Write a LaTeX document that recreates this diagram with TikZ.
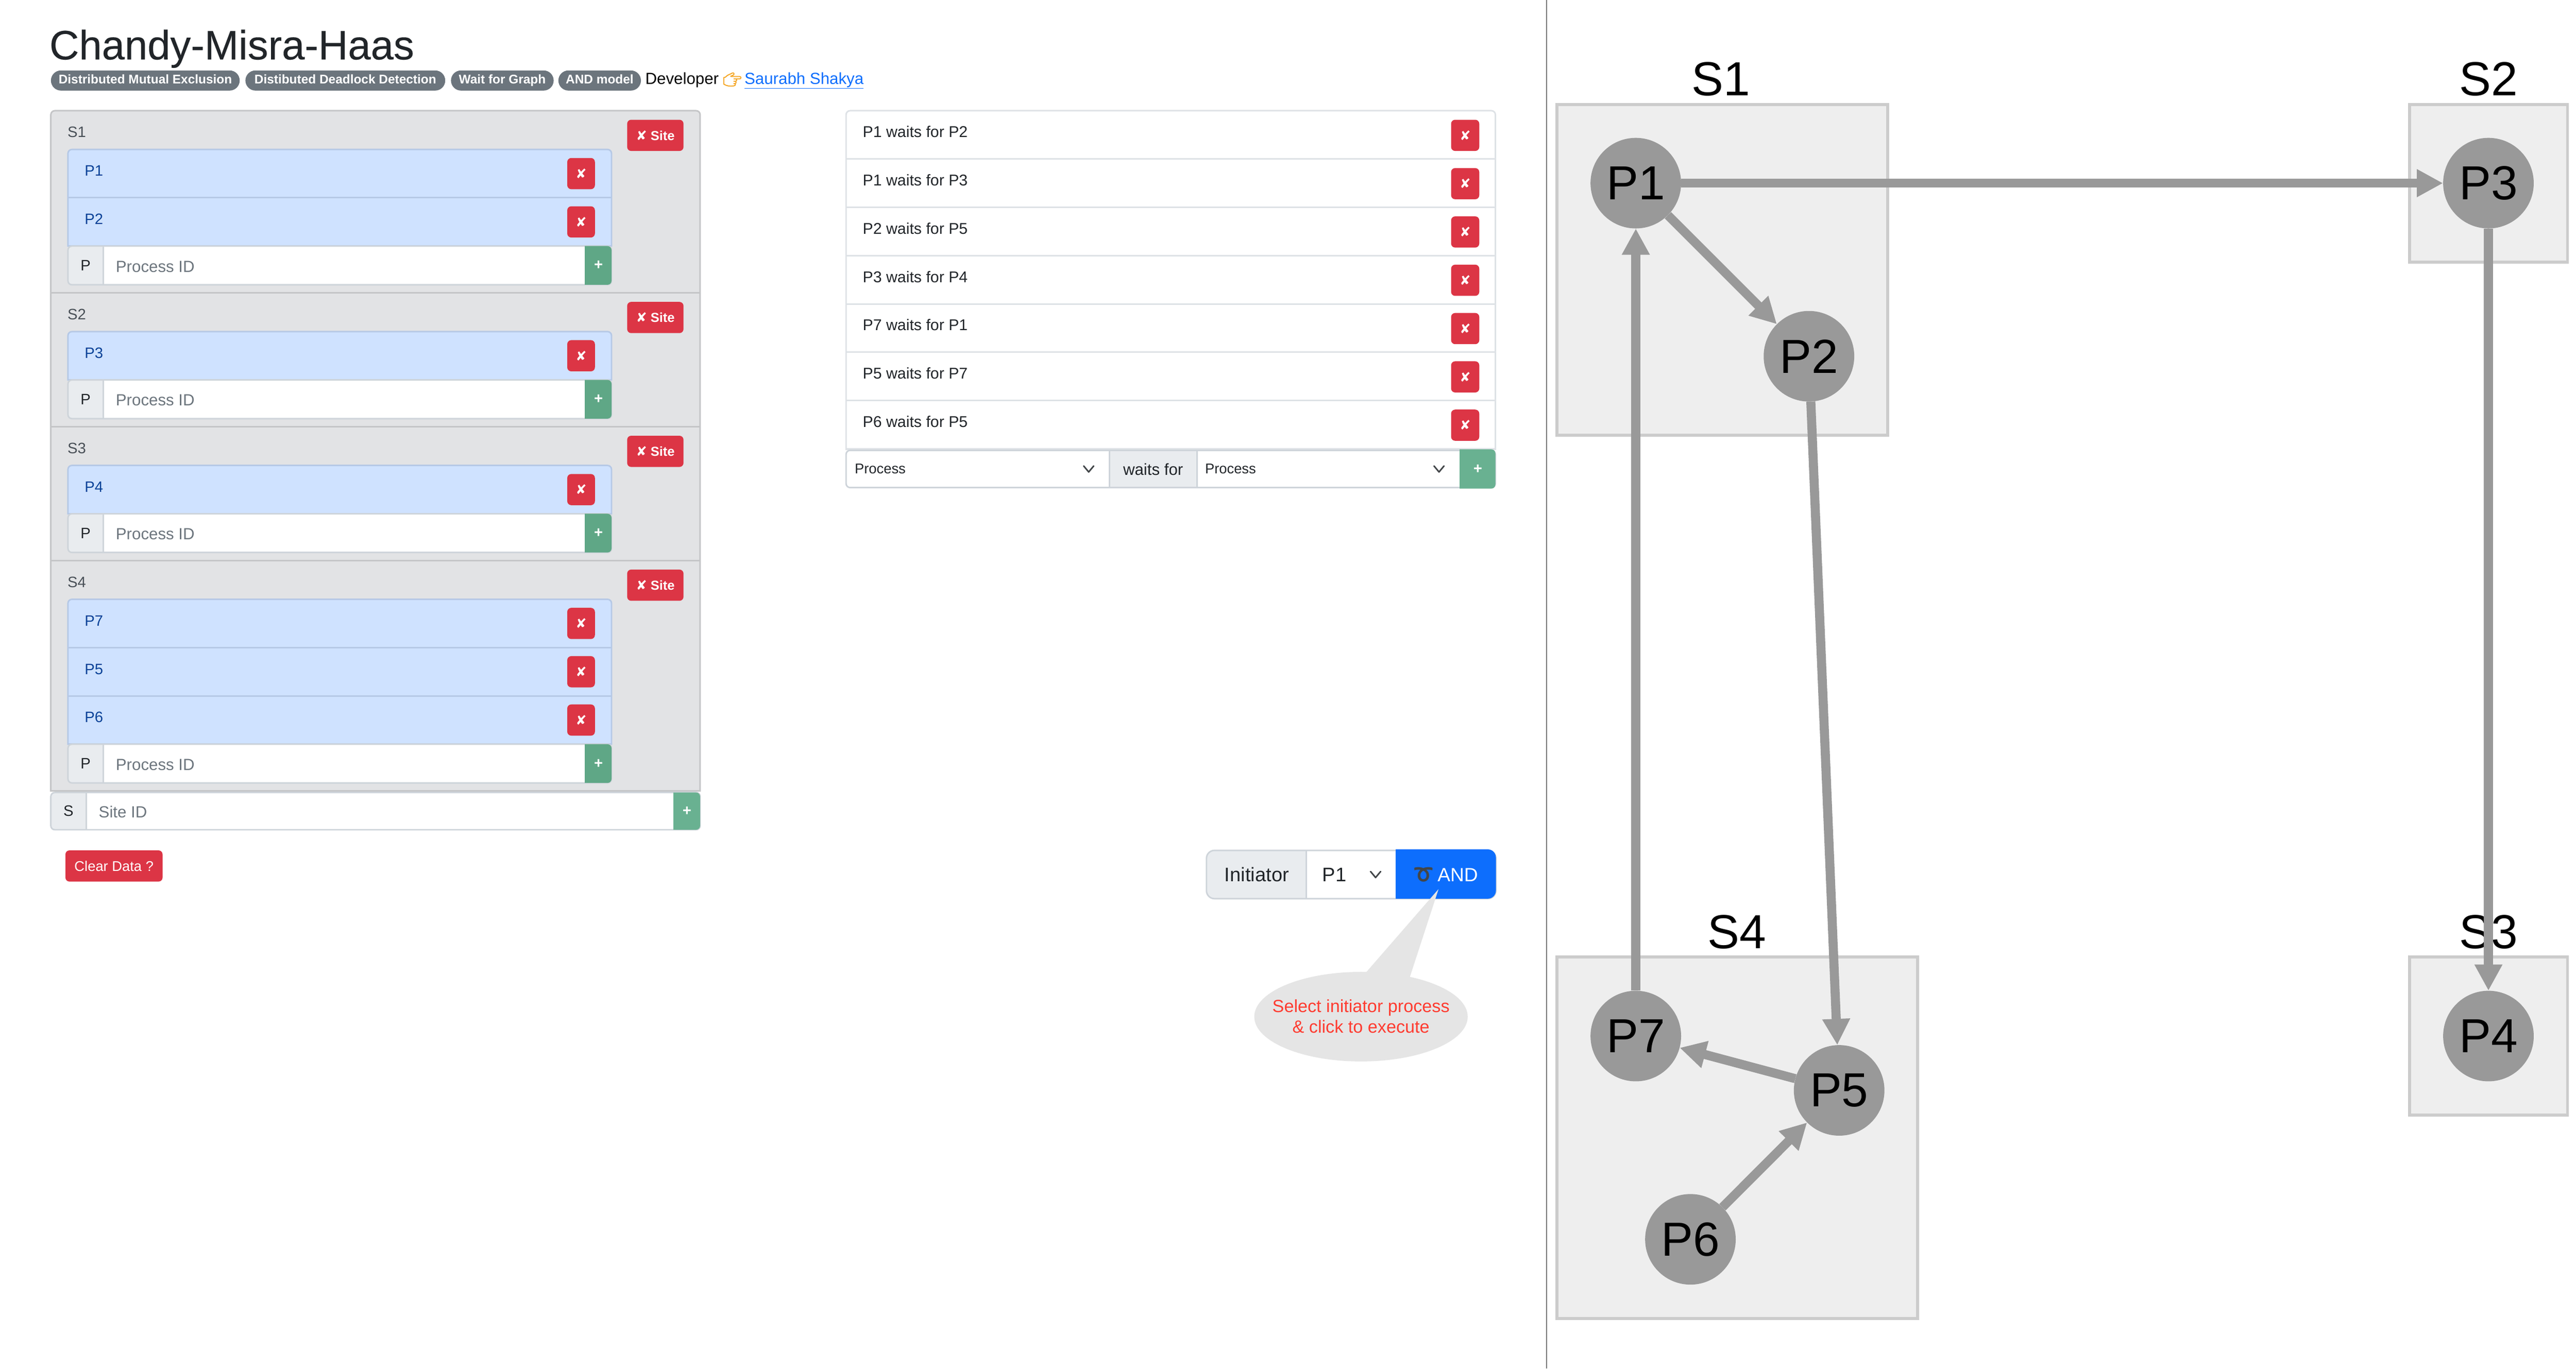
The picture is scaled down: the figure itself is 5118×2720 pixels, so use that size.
\documentclass[tikz,border=0pt]{standalone}
\usepackage{fontspec}
\setmainfont{Liberation Sans}
\newfontfamily\mediumfont[FakeBold=0.25]{Liberation Sans}
\newfontfamily\dingfont{DejaVu Sans}
\newfontfamily\emojifont{Noto Emoji}
\newfontfamily\handfont[FakeBold=2.5]{Noto Emoji}
\usetikzlibrary{arrows.meta,positioning}
\definecolor{inkdark}{HTML}{212529}
\definecolor{inkmuted}{HTML}{495057}
\definecolor{hintgrey}{HTML}{6C757D}
\definecolor{panelgrey}{HTML}{E2E3E5}
\definecolor{panelline}{HTML}{C4C5C7}
\definecolor{procblue}{HTML}{CFE2FF}
\definecolor{procline}{HTML}{B6C9E6}
\definecolor{procink}{HTML}{084298}
\definecolor{btnred}{HTML}{DC3545}
\definecolor{addgreen}{HTML}{5FA786}
\definecolor{addlight}{HTML}{69B191}
\definecolor{cellgrey}{HTML}{E9ECEF}
\definecolor{groupline}{HTML}{CED4DA}
\definecolor{listline}{HTML}{DEE2E6}
\definecolor{runblue}{HTML}{0D6EFD}
\definecolor{calloutgrey}{HTML}{E5E5E5}
\definecolor{calloutred}{HTML}{FF3B30}
\definecolor{boxfill}{HTML}{EEEEEE}
\definecolor{boxline}{HTML}{CCCCCC}
\definecolor{procgrey}{HTML}{999999}
\definecolor{handorange}{HTML}{F5A623}
\definecolor{splitgrey}{HTML}{787878}
\newcommand{\px}[1]{\fontsize{#1}{41}\selectfont}
\newcommand{\xmark}{{\dingfont ✘}}
% panel with rounded top corners only
\newcommand{\topround}[5]{\draw[#1] (#2,#5) [rounded corners=8pt] -- (#2,#3) -- (#4,#3) [sharp corners] -- (#4,#5) -- cycle;}
\newcommand{\chevron}[2]{\draw[chev, shift={(#1,#2)}] (-10,-6) -- (0,6) -- (10,-6);}
% name, x1, y1, x2, y2, letter, placeholder, green
\newcommand{\inputgroup}[8]{%
  \pgfmathsetmacro{\midy}{(#3+#5)/2}
  \begin{scope}
    \clip[rounded corners=8pt] (#2,#3) rectangle (#4,#5);
    \fill[white] (#2,#3) rectangle (#4,#5);
    \fill[cellgrey] (#2,#3) rectangle ({#2+70},#5);
  \end{scope}
  \draw[grouprule, rounded corners=8pt] (#2,#3) rectangle (#4,#5);
  \draw[grouprule] ({#2+70},#3) -- ({#2+70},#5);
  \begin{scope}
    \clip[rounded corners=8pt] (#2,#3) rectangle (#4,#5);
    \fill[#8] ({#4-53},{#3-2}) rectangle ({#4+2},{#5+2});
  \end{scope}
  \node[uitext, anchor=center] (#1letter) at ({#2+35},\midy) {#6};
  \node[placeholder] (#1hint) at ({#2+95},{\midy+13}) {#7};
  \node[plusmark] (#1add) at ({#4-26},\midy) {+};
}
\newcommand{\procrow}[2]{%
  \draw[procrule] (135,{#2+96}) -- (1215,{#2+96});
  \node[proctext] (lbl#1) at (168,{#2+53}) {#1};
  \node[delbtn, minimum width=55pt] (del#1) at (1154.5,{#2+48}) {\xmark};
}
\tikzset{
  uitext/.style={inner sep=0pt, text=inkdark, font=\px{30}},
  basetext/.style={uitext, anchor=base west},
  proctext/.style={basetext, text=procink},
  placeholder/.style={basetext, text=hintgrey, font=\px{32}},
  plusmark/.style={inner sep=0pt, text=white, font=\bfseries\px{30}},
  delbtn/.style={fill=btnred, rounded corners=8pt, text=white, inner sep=0pt, minimum height=62pt, font=\px{26}},
  badge/.style={fill=hintgrey, rounded corners=20pt, text=white, inner sep=0pt, minimum height=40pt, text height=18pt, text depth=5pt, font=\bfseries\px{25}},
  grouprule/.style={draw=groupline, line width=3pt},
  procrule/.style={draw=procline, line width=3pt},
  listrule/.style={draw=listline, line width=3pt},
  chev/.style={draw=inkdark!85, line width=3pt, line cap=round, line join=round},
  sitebox/.style={draw=boxline, fill=boxfill, line width=6pt, inner sep=0pt},
  sitelabel/.style={anchor=base, inner sep=0pt, font=\px{95}},
  procnode/.style={circle, fill=procgrey, inner sep=0pt, minimum size=180pt, font=\px{95}},
  waitedge/.style={draw=procgrey, line width=18pt, -{Triangle[length=52pt,width=52pt]}},
}
\begin{document}
\begin{tikzpicture}[x=1pt,y=-1pt]
  \useasboundingbox[fill=white] (0,0) rectangle (5118,2720);
  % heading
  \node[basetext, font=\mediumfont\px{81.5}] (title) at (98,118) {Chandy-Misra-Haas};
  \node[badge, minimum width=375pt, anchor=west] (tagMutex) at (101,160) {Distributed Mutual Exclusion};
  \node[badge, minimum width=397pt, right=11pt of tagMutex] (tagDeadlock) {Distibuted Deadlock Detection};
  \node[badge, minimum width=204pt, right=11pt of tagDeadlock] (tagGraph) {Wait for Graph};
  \node[badge, minimum width=164pt, right=9pt of tagGraph] (tagModel) {AND model};
  \node[basetext, text=black, font=\px{32}] (dev) at (1282,167) {Developer};
  \node[inner sep=0pt, text=handorange, font=\handfont\px{30}] (devHand) at (1455,158) {👉};
  \node[basetext, text=runblue, font=\px{32}] (devLink) at (1479,167) {\underline{Saurabh Shakya}};
  % sites panel
  \topround{draw=panelline, fill=panelgrey, line width=3pt}{101}{220}{1391}{1572}
  \foreach \site/\stop/\plist/\n in {S1/220/{P1,P2}/2,S2/582/{P3}/1,S3/848/{P4}/1,S4/1114/{P7,P5,P6}/3}{
    \pgfmathsetmacro{\ltop}{\stop+77}
    \pgfmathsetmacro{\lbot}{\ltop+96*\n}
    \pgfmathsetmacro{\sbot}{\lbot+93}
    \draw[draw=panelline, line width=3pt] (101,\sbot) -- (1391,\sbot);
    \node[basetext, text=inkmuted] (lbl\site) at (134,{\stop+53}) {\site};
    \node[delbtn, minimum width=112pt] (del\site) at (1302,{\stop+49}) {\xmark\ \textbf{Site}};
    \topround{procrule, fill=procblue}{135}{\ltop}{1215}{\lbot}
    \foreach \p [count=\i] in \plist {
      \pgfmathsetmacro{\rtop}{\ltop+96*(\i-1)}
      \procrow{\p}{\rtop}
    }
    \inputgroup{in\site}{135}{\lbot}{1215}{\lbot+77}{P}{Process ID}{addgreen}
  }
  \inputgroup{inSite}{101}{1575}{1391}{1649}{S}{Site ID}{addlight}
  \node[delbtn, minimum width=193pt, font=\px{28}] (clearData) at (226.5,1721) {Clear Data ?};
  % wait list
  \topround{listrule, fill=white}{1681}{220}{2971}{893}
  \foreach \a/\b [count=\i] in {P1/P2,P1/P3,P2/P5,P3/P4,P7/P1,P5/P7,P6/P5}{
    \pgfmathsetmacro{\rtop}{220+96*(\i-1)}
    \draw[listrule] (1681,{\rtop+96}) -- (2971,{\rtop+96});
    \node[basetext, font=\px{31}] (wait\a\b) at (1714,{\rtop+53}) {\a{} waits for \b};
    \node[delbtn, minimum width=56pt] (delw\a\b) at (2911,{\rtop+49}) {\xmark};
  }
  % add wait row
  \fill[white] (1681,895) rectangle (2971,969);
  \begin{scope}
    \clip[rounded corners=8pt] (1681,895) rectangle (2971,969);
    \fill[cellgrey] (2204,895) rectangle (2378,969);
  \end{scope}
  \draw[grouprule, rounded corners=8pt] (1681,895) rectangle (2971,969);
  \draw[grouprule] (2204,895) -- (2204,969) (2378,895) -- (2378,969);
  \begin{scope}
    \clip[rounded corners=8pt] (1681,893) rectangle (2971,971);
    \fill[addlight] (2900,893) rectangle (2973,971);
  \end{scope}
  \node[basetext, font=\px{28}] (selFrom) at (1698,941) {Process};
  \node[uitext, anchor=base, font=\px{32}] (waitsFor) at (2291,944) {waits for};
  \node[basetext, font=\px{28}] (selTo) at (2394,941) {Process};
  \node[plusmark] (addWait) at (2936,932) {+};
  \chevron{2163}{932}
  \chevron{2859}{932}
  % initiator row
  \begin{scope}
    \clip[rounded corners=16pt] (2397,1690) rectangle (2972,1786);
    \fill[white] (2397,1690) rectangle (2972,1786);
    \fill[cellgrey] (2397,1690) rectangle (2595,1786);
  \end{scope}
  \draw[grouprule, rounded corners=16pt] (2397,1690) rectangle (2972,1786);
  \draw[grouprule] (2595,1690) -- (2595,1786);
  \begin{scope}
    \clip[rounded corners=16pt] (2397,1688) rectangle (2972,1786);
    \fill[runblue] (2773,1688) rectangle (2974,1788);
  \end{scope}
  \node[uitext, anchor=base, font=\px{39}] (initLabel) at (2497,1752) {Initiator};
  \node[basetext, font=\px{39}] (initValue) at (2627,1752) {P1};
  \chevron{2733}{1738}
  \node[inner sep=0pt, text=inkdark!85, font=\emojifont\px{40}] (runLoop) at (2828,1738) {➰};
  \node[basetext, text=white, font=\px{38}] (runAnd) at (2856,1752) {AND};
  % callout
  \coordinate (hintTip) at (2858,1767);
  \coordinate (hintLeft) at (2711,1936);
  \coordinate (hintRight) at (2800,1945);
  \fill[calloutgrey] (hintLeft) -- (hintTip) -- (hintRight) -- cycle;
  \fill[calloutgrey] (2704,2020.5) ellipse [x radius=212, y radius=89];
  \node[inner sep=0pt, align=center, text=calloutred, font=\px{35}] (hintText) at (2704,2020) {Select initiator process\\\& click to execute};
  % divider
  \draw[draw=splitgrey, line width=2.5pt] (3073,0) -- (3073,2720);
  % site boxes
  \node[sitebox, minimum width=657pt, minimum height=657pt] (boxS1) at (3421.5,536.5) {};
  \node[sitebox, minimum width=314pt, minimum height=313pt] (boxS2) at (4944,364.5) {};
  \node[sitebox, minimum width=314pt, minimum height=314pt] (boxS3) at (4944,2059) {};
  \node[sitebox, minimum width=717pt, minimum height=718pt] (boxS4) at (3451.5,2261) {};
  \node[sitelabel] (nameS1) at (3419,190) {S1};
  \node[sitelabel] (nameS2) at (4944,190) {S2};
  \node[sitelabel] (nameS3) at (4944,1885) {S3};
  \node[sitelabel] (nameS4) at (3451,1885) {S4};
  % wait for graph
  \node[procnode] (P1) at (3250,364) {P1};
  \node[procnode] (P2) at (3594,708) {P2};
  \node[procnode] (P3) at (4944,364) {P3};
  \node[procnode] (P4) at (4944,2059) {P4};
  \node[procnode] (P5) at (3654,2167) {P5};
  \node[procnode] (P6) at (3358.5,2463) {P6};
  \node[procnode] (P7) at (3250,2059) {P7};
  \draw[waitedge] (P1) -- (P2);
  \draw[waitedge] (P1) -- (P3);
  \draw[waitedge] (P2) -- (P5);
  \draw[waitedge] (P3) -- (P4);
  \draw[waitedge] (P7) -- (P1);
  \draw[waitedge] (P5) -- (P7);
  \draw[waitedge] (P6) -- (P5);
\end{tikzpicture}
\end{document}
